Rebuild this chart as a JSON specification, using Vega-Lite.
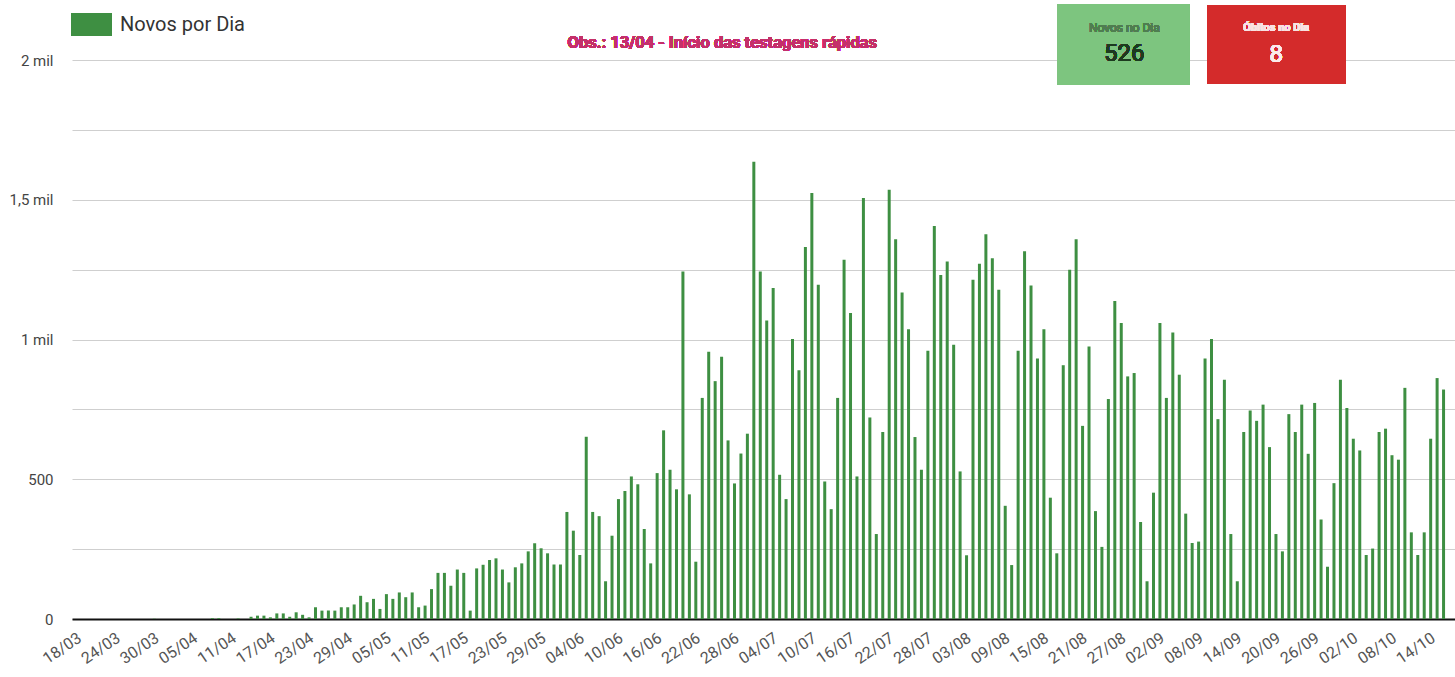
{
  "$schema": "https://vega.github.io/schema/vega-lite/v6.json",
  "width": 1383,
  "height": 559,
  "autosize": {"type": "none"},
  "padding": {"left": 72, "top": 60, "right": 0, "bottom": 58},
  "background": "white",
  "config": {"view": {"stroke": null}, "font": "Roboto"},
  "data": {
    "format": {"parse": {"d": "date:'%d/%m/%Y'"}},
    "values": [
      {"d":"18/03/2020","v":0},{"d":"19/03/2020","v":0},{"d":"20/03/2020","v":0},{"d":"21/03/2020","v":0},{"d":"22/03/2020","v":0},
      {"d":"23/03/2020","v":0},{"d":"24/03/2020","v":0},{"d":"25/03/2020","v":0},{"d":"26/03/2020","v":0},{"d":"27/03/2020","v":0},
      {"d":"28/03/2020","v":0},{"d":"29/03/2020","v":1},{"d":"30/03/2020","v":0},{"d":"31/03/2020","v":0},{"d":"01/04/2020","v":0},
      {"d":"02/04/2020","v":0},{"d":"03/04/2020","v":0},{"d":"04/04/2020","v":0},{"d":"05/04/2020","v":0},{"d":"06/04/2020","v":0},
      {"d":"07/04/2020","v":3},{"d":"08/04/2020","v":3},{"d":"09/04/2020","v":0},{"d":"10/04/2020","v":0},{"d":"11/04/2020","v":2},
      {"d":"12/04/2020","v":0},{"d":"13/04/2020","v":8},{"d":"14/04/2020","v":12},{"d":"15/04/2020","v":12},{"d":"16/04/2020","v":6},
      {"d":"17/04/2020","v":20},{"d":"18/04/2020","v":20},{"d":"19/04/2020","v":8},{"d":"20/04/2020","v":24},{"d":"21/04/2020","v":15},
      {"d":"22/04/2020","v":6},{"d":"23/04/2020","v":42},{"d":"24/04/2020","v":30},{"d":"25/04/2020","v":30},{"d":"26/04/2020","v":30},
      {"d":"27/04/2020","v":42},{"d":"28/04/2020","v":42},{"d":"29/04/2020","v":52},{"d":"30/04/2020","v":83},{"d":"01/05/2020","v":60},
      {"d":"02/05/2020","v":72},{"d":"03/05/2020","v":36},{"d":"04/05/2020","v":89},{"d":"05/05/2020","v":72},{"d":"06/05/2020","v":95},
      {"d":"07/05/2020","v":78},{"d":"08/05/2020","v":95},{"d":"09/05/2020","v":42},{"d":"10/05/2020","v":48},{"d":"11/05/2020","v":107},
      {"d":"12/05/2020","v":165},{"d":"13/05/2020","v":165},{"d":"14/05/2020","v":119},{"d":"15/05/2020","v":177},{"d":"16/05/2020","v":165},
      {"d":"17/05/2020","v":30},{"d":"18/05/2020","v":181},{"d":"19/05/2020","v":194},{"d":"20/05/2020","v":211},{"d":"21/05/2020","v":217},
      {"d":"22/05/2020","v":177},{"d":"23/05/2020","v":131},{"d":"24/05/2020","v":185},{"d":"25/05/2020","v":199},{"d":"26/05/2020","v":242},
      {"d":"27/05/2020","v":271},{"d":"28/05/2020","v":253},{"d":"29/05/2020","v":235},{"d":"30/05/2020","v":195},{"d":"31/05/2020","v":195},
      {"d":"01/06/2020","v":383},{"d":"02/06/2020","v":316},{"d":"03/06/2020","v":229},{"d":"04/06/2020","v":652},{"d":"05/06/2020","v":383},
      {"d":"06/06/2020","v":368},{"d":"07/06/2020","v":135},{"d":"08/06/2020","v":298},{"d":"09/06/2020","v":429},{"d":"10/06/2020","v":458},
      {"d":"11/06/2020","v":510},{"d":"12/06/2020","v":482},{"d":"13/06/2020","v":322},{"d":"14/06/2020","v":199},{"d":"15/06/2020","v":522},
      {"d":"16/06/2020","v":675},{"d":"17/06/2020","v":534},{"d":"18/06/2020","v":464},{"d":"19/06/2020","v":1243},{"d":"20/06/2020","v":446},
      {"d":"21/06/2020","v":205},{"d":"22/06/2020","v":791},{"d":"23/06/2020","v":956},{"d":"24/06/2020","v":851},{"d":"25/06/2020","v":938},
      {"d":"26/06/2020","v":639},{"d":"27/06/2020","v":485},{"d":"28/06/2020","v":592},{"d":"29/06/2020","v":663},{"d":"30/06/2020","v":1636},
      {"d":"01/07/2020","v":1243},{"d":"02/07/2020","v":1068},{"d":"03/07/2020","v":1184},{"d":"04/07/2020","v":516},{"d":"05/07/2020","v":429},
      {"d":"06/07/2020","v":1002},{"d":"07/07/2020","v":890},{"d":"08/07/2020","v":1331},{"d":"09/07/2020","v":1524},{"d":"10/07/2020","v":1196},
      {"d":"11/07/2020","v":492},{"d":"12/07/2020","v":393},{"d":"13/07/2020","v":791},{"d":"14/07/2020","v":1285},{"d":"15/07/2020","v":1095},
      {"d":"16/07/2020","v":510},{"d":"17/07/2020","v":1506},{"d":"18/07/2020","v":721},{"d":"19/07/2020","v":304},{"d":"20/07/2020","v":669},
      {"d":"21/07/2020","v":1536},{"d":"22/07/2020","v":1359},{"d":"23/07/2020","v":1168},{"d":"24/07/2020","v":1037},{"d":"25/07/2020","v":651},
      {"d":"26/07/2020","v":534},{"d":"27/07/2020","v":960},{"d":"28/07/2020","v":1406},{"d":"29/07/2020","v":1231},{"d":"30/07/2020","v":1279},
      {"d":"31/07/2020","v":981},{"d":"01/08/2020","v":528},{"d":"02/08/2020","v":228},{"d":"03/08/2020","v":1214},{"d":"04/08/2020","v":1271},
      {"d":"05/08/2020","v":1377},{"d":"06/08/2020","v":1291},{"d":"07/08/2020","v":1178},{"d":"08/08/2020","v":405},{"d":"09/08/2020","v":193},
      {"d":"10/08/2020","v":960},{"d":"11/08/2020","v":1316},{"d":"12/08/2020","v":1193},{"d":"13/08/2020","v":932},{"d":"14/08/2020","v":1037},
      {"d":"15/08/2020","v":434},{"d":"16/08/2020","v":235},{"d":"17/08/2020","v":908},{"d":"18/08/2020","v":1250},{"d":"19/08/2020","v":1359},
      {"d":"20/08/2020","v":691},{"d":"21/08/2020","v":975},{"d":"22/08/2020","v":386},{"d":"23/08/2020","v":258},{"d":"24/08/2020","v":787},
      {"d":"25/08/2020","v":1138},{"d":"26/08/2020","v":1059},{"d":"27/08/2020","v":868},{"d":"28/08/2020","v":880},{"d":"29/08/2020","v":347},
      {"d":"30/08/2020","v":135},{"d":"31/08/2020","v":452},{"d":"01/09/2020","v":1059},{"d":"02/09/2020","v":791},{"d":"03/09/2020","v":1025},
      {"d":"04/09/2020","v":874},{"d":"05/09/2020","v":377},{"d":"06/09/2020","v":272},{"d":"07/09/2020","v":277},{"d":"08/09/2020","v":932},
      {"d":"09/09/2020","v":1002},{"d":"10/09/2020","v":715},{"d":"11/09/2020","v":856},{"d":"12/09/2020","v":304},{"d":"13/09/2020","v":135},
      {"d":"14/09/2020","v":669},{"d":"15/09/2020","v":746},{"d":"16/09/2020","v":709},{"d":"17/09/2020","v":767},{"d":"18/09/2020","v":615},
      {"d":"19/09/2020","v":304},{"d":"20/09/2020","v":242},{"d":"21/09/2020","v":733},{"d":"22/09/2020","v":669},{"d":"23/09/2020","v":767},
      {"d":"24/09/2020","v":591},{"d":"25/09/2020","v":773},{"d":"26/09/2020","v":356},{"d":"27/09/2020","v":187},{"d":"28/09/2020","v":486},
      {"d":"29/09/2020","v":856},{"d":"30/09/2020","v":755},{"d":"01/10/2020","v":645},{"d":"02/10/2020","v":603},{"d":"03/10/2020","v":229},
      {"d":"04/10/2020","v":252},{"d":"05/10/2020","v":669},{"d":"06/10/2020","v":681},{"d":"07/10/2020","v":586},{"d":"08/10/2020","v":570},
      {"d":"09/10/2020","v":827},{"d":"10/10/2020","v":310},{"d":"11/10/2020","v":229},{"d":"12/10/2020","v":310},{"d":"13/10/2020","v":645},
      {"d":"14/10/2020","v":862},{"d":"15/10/2020","v":821}
    ]
  },
  "layer": [
    {
      "mark": {"type": "bar", "width": 3, "color": "#52a355"},
      "encoding": {
        "x": {
          "field": "d", "type": "temporal",
          "scale": {"domain": [{"year": 2020, "month": 3, "date": 17}, {"year": 2020, "month": 10, "date": 16}], "nice": false},
          "axis": {
            "title": null, "grid": false, "ticks": false,
            "domainColor": "#111", "domainWidth": 2,
            "format": "%d/%m", "labelAngle": -34, "labelAlign": "right", "labelBaseline": "middle",
            "labelPadding": 17, "labelOffset": -4, "labelFontSize": 16, "labelColor": "#555", "labelFont": "Roboto",
            "labelOverlap": false, "labelBound": false, "labelFlush": false, "tickCount": 60,
            "values": [
              {"year":2020,"month":3,"date":18},{"year":2020,"month":3,"date":24},{"year":2020,"month":3,"date":30},
              {"year":2020,"month":4,"date":5},{"year":2020,"month":4,"date":11},{"year":2020,"month":4,"date":17},
              {"year":2020,"month":4,"date":23},{"year":2020,"month":4,"date":29},{"year":2020,"month":5,"date":5},
              {"year":2020,"month":5,"date":11},{"year":2020,"month":5,"date":17},{"year":2020,"month":5,"date":23},
              {"year":2020,"month":5,"date":29},{"year":2020,"month":6,"date":4},{"year":2020,"month":6,"date":10},
              {"year":2020,"month":6,"date":16},{"year":2020,"month":6,"date":22},{"year":2020,"month":6,"date":28},
              {"year":2020,"month":7,"date":4},{"year":2020,"month":7,"date":10},{"year":2020,"month":7,"date":16},
              {"year":2020,"month":7,"date":22},{"year":2020,"month":7,"date":28},{"year":2020,"month":8,"date":3},
              {"year":2020,"month":8,"date":9},{"year":2020,"month":8,"date":15},{"year":2020,"month":8,"date":21},
              {"year":2020,"month":8,"date":27},{"year":2020,"month":9,"date":2},{"year":2020,"month":9,"date":8},
              {"year":2020,"month":9,"date":14},{"year":2020,"month":9,"date":20},{"year":2020,"month":9,"date":26},
              {"year":2020,"month":10,"date":2},{"year":2020,"month":10,"date":8},{"year":2020,"month":10,"date":14}
            ]
          }
        },
        "y": {
          "field": "v", "type": "quantitative",
          "scale": {"domain": [0, 2000], "nice": false},
          "axis": {
            "title": null, "domain": false, "ticks": false,
            "values": [0, 250, 500, 750, 1000, 1250, 1500, 1750, 2000], "tickCount": 20,
            "gridColor": "#cfcfcf", "gridWidth": 1,
            "labelExpr": "datum.value % 500 != 0 ? '' : (datum.value >= 1000 ? replace(format(datum.value / 1000, '~g'), '.', ',') + ' mil' : format(datum.value, 'd'))",
            "labelPadding": 19, "labelFontSize": 15, "labelColor": "#444", "labelFont": "Roboto"
          }
        },
        "color": {
          "datum": "Novos por Dia",
          "scale": {"range": ["#3e8f42"]},
          "legend": {
            "orient": "none", "legendX": -1, "legendY": -56, "title": null, "padding": 0,
            "symbolType": "M-1,-0.56H1V0.56H-1Z", "symbolSize": 1681, "symbolStrokeWidth": 0,
            "labelFontSize": 20, "labelColor": "#333", "labelFont": "Roboto", "labelOffset": 8
          }
        }
      }
    },
    {
      "mark": {"type": "rect", "color": "#7dc57f"},
      "encoding": {
        "x": {"datum": {"year": 2020, "month": 8, "date": 16, "hours": 4}, "type": "temporal"},
        "x2": {"datum": {"year": 2020, "month": 9, "date": 5, "hours": 15, "minutes": 36}},
        "y": {"datum": 2200, "type": "quantitative"},
        "y2": {"datum": 1911}
      }
    },
    {
      "mark": {"type": "rect", "color": "#d42b2b"},
      "encoding": {
        "x": {"datum": {"year": 2020, "month": 9, "date": 8, "hours": 10}, "type": "temporal"},
        "x2": {"datum": {"year": 2020, "month": 9, "date": 29, "hours": 20}},
        "y": {"datum": 2197, "type": "quantitative"},
        "y2": {"datum": 1914}
      }
    },
    {
      "mark": {"type": "text", "text": "Obs.: 13/04 - Início das testagens rápidas", "font": "Roboto", "fontSize": 16.5, "fontWeight": "bold", "color": "#c4306a", "align": "center", "baseline": "middle"},
      "encoding": {
        "x": {"datum": {"year": 2020, "month": 6, "date": 25, "hours": 2, "minutes": 30}, "type": "temporal"},
        "y": {"datum": 2061, "type": "quantitative"}
      }
    },
    {
      "mark": {"type": "text", "text": "Novos no Dia", "font": "Roboto", "fontSize": 12, "color": "#4f7d50", "align": "center", "baseline": "middle"},
      "encoding": {
        "x": {"datum": {"year": 2020, "month": 8, "date": 26, "hours": 11, "minutes": 30}, "type": "temporal"},
        "y": {"datum": 2115, "type": "quantitative"}
      }
    },
    {
      "mark": {"type": "text", "text": "526", "font": "Roboto", "fontSize": 24, "color": "#1d3b1f", "align": "center", "baseline": "middle"},
      "encoding": {
        "x": {"datum": {"year": 2020, "month": 8, "date": 26, "hours": 11, "minutes": 30}, "type": "temporal"},
        "y": {"datum": 2022, "type": "quantitative"}
      }
    },
    {
      "mark": {"type": "text", "text": "Óbitos no Dia", "font": "Roboto", "fontSize": 11, "fontWeight": "bold", "color": "#fbe3e3", "align": "center", "baseline": "middle"},
      "encoding": {
        "x": {"datum": {"year": 2020, "month": 9, "date": 19, "hours": 1}, "type": "temporal"},
        "y": {"datum": 2115, "type": "quantitative"}
      }
    },
    {
      "mark": {"type": "text", "text": "8", "font": "Roboto", "fontSize": 24, "color": "#fdeaea", "align": "center", "baseline": "middle"},
      "encoding": {
        "x": {"datum": {"year": 2020, "month": 9, "date": 19, "hours": 1}, "type": "temporal"},
        "y": {"datum": 2018, "type": "quantitative"}
      }
    }
  ]
}
